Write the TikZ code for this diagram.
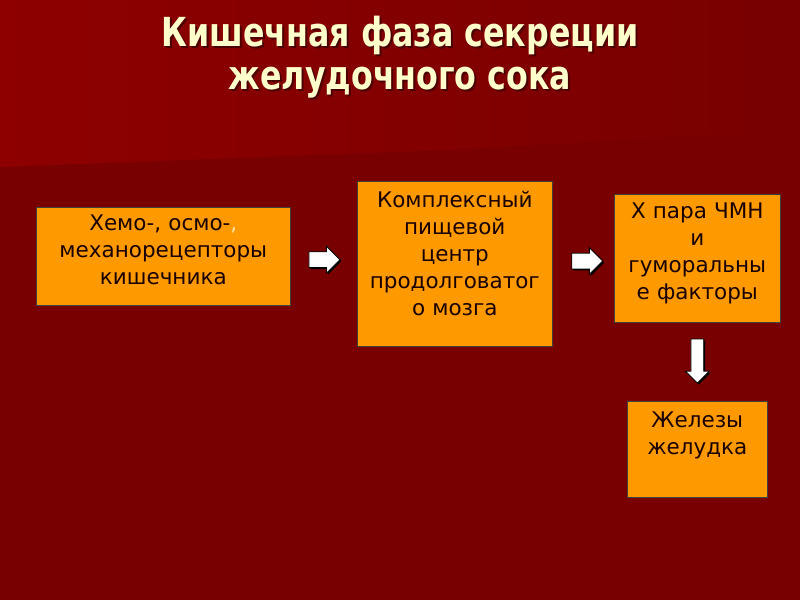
\documentclass[tikz,border=0pt]{standalone}
\usepackage{fontspec}
\setmainfont{DejaVu Sans}
\newfontfamily\titlefont{DejaVu Sans Condensed}[FakeStretch=0.88]
\usepackage{tikz}
\usetikzlibrary{shapes.arrows, shadows, calc}
\definecolor{slidered}{HTML}{780000}
\definecolor{slidelight}{HTML}{8E0000}
\definecolor{boxorange}{HTML}{FF9900}
\definecolor{titlecream}{HTML}{FFFFCC}
\definecolor{commayellow}{HTML}{FFE6A0}

\begin{document}
\begin{tikzpicture}[x=1pt, y=-1pt,
  box/.style={rectangle, fill=boxorange, draw=gray!50!black, line width=0.6pt, inner sep=0pt, align=center, anchor=north west, text=black!90!red, font=\fontsize{21.5}{27}\selectfont},
  blockarrow/.style={single arrow, draw=black, fill=white, line width=0.8pt, inner xsep=0pt, inner ysep=7.5pt, single arrow head extend=5.5pt, drop shadow={shadow xshift=1.5pt, shadow yshift=-1.5pt, fill=black, opacity=1}},
  titletext/.style={font=\titlefont\bfseries\fontsize{40}{43}\selectfont, align=center, anchor=base}]
  \fill[slidered] (0,0) rectangle (800,600);
  \shade[left color=slidelight, right color=slidered] (0,0) -- (800,0) -- (800,130) -- (450,150) -- (0,167) -- cycle;
  \useasboundingbox (0,0) rectangle (800,600);
  \node[titletext, text=black!70!red] (titleshadow) at (402,91) {Кишечная фаза секреции\\желудочного сока};
  \node[titletext, text=titlecream] (title) at (400,89) {Кишечная фаза секреции\\желудочного сока};
  \node[box, text width=254pt, text height=23pt, text depth=75pt] (recep) at (36,207) {Хемо-, осмо-{\color{commayellow},}\\механорецепторы\\кишечника};
  \node[box, text width=195pt, text height=26pt, text depth=139pt] (center) at (357,181) {Комплексный\\пищевой\\центр\\продолговатог\\о мозга};
  \node[box, text width=166pt, text height=24pt, text depth=104pt] (nerve) at (614,194) {Х пара ЧМН\\и\\гуморальны\\е факторы};
  \node[box, text width=140pt, text height=26pt, text depth=70pt] (glands) at (627,401) {Железы\\желудка};
  \node[blockarrow, minimum height=31pt] (arrA) at ($(recep.east)!0.45!(center.west)$ |- 0,252) {};
  \node[blockarrow, minimum height=31pt] (arrB) at ($(center.east)!0.5!(nerve.west)$ |- 0,252) {};
  \node[blockarrow, minimum height=44pt, inner ysep=6pt, rotate=-90] (arrC) at ($(nerve.south)!0.45!(glands.north)$) {};
\end{tikzpicture}
\end{document}
